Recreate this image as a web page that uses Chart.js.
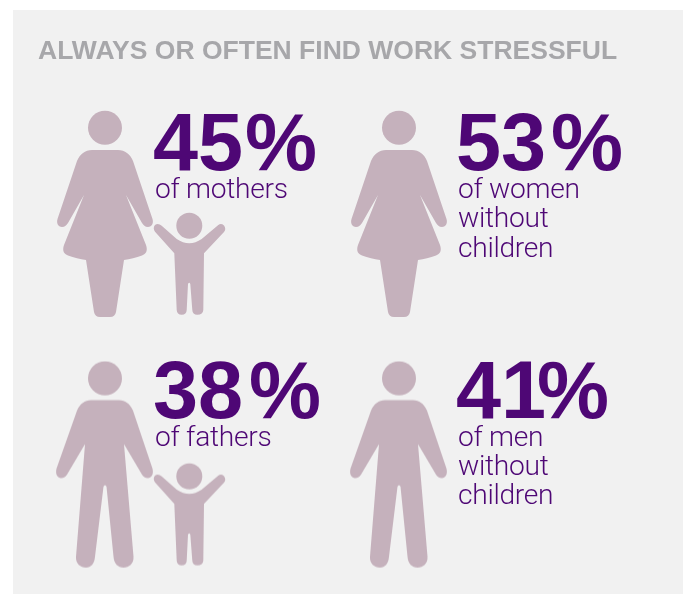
<!DOCTYPE html>
<html>
<head>
<meta charset="utf-8">
<style>
  html, body { margin: 0; padding: 0; background: #fff; }
  #wrap { position: relative; width: 683px; height: 594px; }
  canvas { display: block; }
</style>
</head>
<body>
<div id="wrap"><canvas id="myChart" width="683" height="594"></canvas></div>
<script src="https://cdn.jsdelivr.net/npm/chart.js@4"></script>
<script>
const title = 'ALWAYS OR OFTEN FIND WORK STRESSFUL';
const categories = ['mothers', 'women without children', 'fathers', 'men without children'];
const values = [45, 53, 38, 41];
const captions = [
  ['of mothers'],
  ['of women', 'without', 'children'],
  ['of fathers'],
  ['of men', 'without', 'children'],
];
const figures = ['woman', 'woman', 'man', 'man'];
const columns = [0, 1, 0, 1];
const rows = [0, 0, 1, 1];
const withChild = [true, false, true, false];

const PURPLE = '#4e0775';
const FIGURE = '#c5b1bc';

// icon canvases used as point styles; paths are in icon-local pixels
function icon(w, h, draw) {
  const c = document.createElement('canvas');
  c.width = w;
  c.height = h;
  const g = c.getContext('2d');
  g.fillStyle = FIGURE;
  draw(g);
  return c;
}

function head(g, x, y, r) {
  g.beginPath();
  g.arc(x, y, r, 0, Math.PI * 2);
  g.fill();
}

const womanIcon = icon(110, 212, (g) => {
  head(g, 55, 17.7, 17);
  g.beginPath();
  g.moveTo(42, 40);
  g.lineTo(68, 40);
  g.bezierCurveTo(75, 40, 80, 44, 83, 51);
  g.lineTo(102.5, 109);
  g.bezierCurveTo(104, 114, 101, 117, 98, 117);
  g.bezierCurveTo(95, 117, 93.5, 115, 92, 113);
  g.lineTo(76, 85);
  g.lineTo(96, 135);
  g.bezierCurveTo(98, 141, 96, 144, 92, 145.5);
  g.bezierCurveTo(86, 148, 80, 149, 74, 150);
  g.lineTo(66, 202);
  g.quadraticCurveTo(65, 207, 60, 207);
  g.lineTo(50, 207);
  g.quadraticCurveTo(45, 207, 44, 202);
  g.lineTo(36, 150);
  g.bezierCurveTo(30, 149, 24, 148, 18, 145.5);
  g.bezierCurveTo(14, 144, 12, 141, 14, 135);
  g.lineTo(34, 85);
  g.lineTo(18, 113);
  g.bezierCurveTo(16.5, 115, 15, 117, 12, 117);
  g.bezierCurveTo(9, 117, 6, 114, 7.5, 109);
  g.lineTo(27, 51);
  g.bezierCurveTo(30, 44, 35, 40, 42, 40);
  g.closePath();
  g.fill();
});

const manIcon = icon(110, 212, (g) => {
  head(g, 55, 17.7, 17);
  g.beginPath();
  g.moveTo(41, 39.5);
  g.lineTo(69, 39.5);
  g.bezierCurveTo(75, 39.5, 80, 43, 83, 50);
  g.lineTo(102.5, 108);
  g.bezierCurveTo(104, 114, 101, 117.5, 98, 117.5);
  g.bezierCurveTo(95, 117.5, 93.5, 116, 92, 114);
  g.lineTo(74, 83.5);
  g.lineTo(83.5, 196);
  g.bezierCurveTo(84, 203, 79, 207, 73.5, 207);
  g.bezierCurveTo(68, 207, 64, 203, 63.5, 196);
  g.lineTo(56.5, 126);
  g.quadraticCurveTo(55, 123, 53.5, 126);
  g.lineTo(45, 196);
  g.bezierCurveTo(44.5, 203, 41, 207, 36, 207);
  g.bezierCurveTo(30.5, 207, 25.5, 203, 26, 196);
  g.lineTo(35, 83.5);
  g.lineTo(17, 114);
  g.bezierCurveTo(15.5, 116, 14, 117.5, 11, 117.5);
  g.bezierCurveTo(8, 117.5, 5, 114, 6.5, 108);
  g.lineTo(27, 50);
  g.bezierCurveTo(30, 43, 35, 39.5, 41, 39.5);
  g.closePath();
  g.fill();
});

const childIcon = icon(80, 108, (g) => {
  head(g, 39.3, 15.7, 13);
  g.beginPath();
  g.moveTo(11.7, 15.7);
  g.lineTo(26.7, 29);
  g.quadraticCurveTo(39.3, 37.5, 51.7, 29);
  g.lineTo(68.3, 15);
  g.quadraticCurveTo(71, 13, 74, 15.5);
  g.quadraticCurveTo(76.5, 19, 74, 22);
  g.lineTo(54, 43.3);
  g.lineTo(53.3, 100);
  g.quadraticCurveTo(53, 104.7, 47.3, 104.7);
  g.quadraticCurveTo(42.5, 104.7, 42.3, 100);
  g.lineTo(40.3, 74);
  g.quadraticCurveTo(39.2, 71.5, 38, 74);
  g.lineTo(36.7, 100);
  g.quadraticCurveTo(36.5, 104.7, 31.7, 104.7);
  g.quadraticCurveTo(27, 104.7, 26.7, 100);
  g.lineTo(24.3, 43.3);
  g.lineTo(5, 21.7);
  g.quadraticCurveTo(2.5, 18, 5, 15);
  g.quadraticCurveTo(8, 12.5, 11.7, 15.7);
  g.closePath();
  g.fill();
});

const icons = { woman: womanIcon, man: manIcon };

const adultPoints = categories.map((c, i) => ({ x: columns[i], y: rows[i] }));
const childPoints = categories
  .map((c, i) => ({ x: columns[i] + 0.289, y: rows[i] + 0.1915, show: withChild[i] }))
  .filter((p) => p.show);

// kerning of the % sign per label, and the lift of the lower row of text
const percentShift = [2, 5, 6, -9];
const rowLift = [0, 3];
const columnTextGap = [50, 59];

// panel, heading, percentages and captions
const infographicText = {
  id: 'infographicText',
  beforeDraw(chart) {
    const { ctx } = chart;
    ctx.save();
    ctx.fillStyle = '#f1f1f1';
    ctx.fillRect(13, 10, 670, 584);
    ctx.restore();
  },
  afterDatasetsDraw(chart) {
    const { ctx } = chart;
    const adults = chart.getDatasetMeta(0).data;
    ctx.save();
    ctx.textBaseline = 'alphabetic';
    ctx.textAlign = 'left';
    ctx.fillStyle = '#a7a7aa';
    ctx.font = 'bold 26.5px "Liberation Sans"';
    ctx.fillText(title, 38, 59);

    adults.forEach((pt, i) => {
      const left = pt.x + columnTextGap[columns[i]];
      const base = pt.y - 46 - rowLift[rows[i]];
      const digits = String(values[i]);
      ctx.fillStyle = PURPLE;
      ctx.font = 'bold 81px "Liberation Sans"';
      ctx.fillText(digits, left - 2, base);
      ctx.fillText('%', left - 2 + ctx.measureText(digits).width + percentShift[i], base);
      ctx.font = '300 28.2px Roboto';
      ctx.letterSpacing = '-0.3px';
      captions[i].forEach((line, n) => {
        ctx.fillText(line, left, base + 28 + n * 29.3);
      });
      ctx.letterSpacing = '0px';
    });
    ctx.restore();
  },
};

const ctx = document.getElementById('myChart').getContext('2d');
new Chart(ctx, {
  type: 'scatter',
  data: {
    datasets: [
      {
        label: 'Adults',
        data: adultPoints,
        pointStyle: (c) => icons[figures[c.dataIndex]],
        pointRadius: 10,
      },
      {
        label: 'Children',
        data: childPoints,
        pointStyle: childIcon,
        pointRadius: 10,
      },
    ],
  },
  options: {
    responsive: false,
    animation: false,
    layout: { padding: 0, autoPadding: false },
    plugins: { legend: { display: false }, tooltip: { enabled: false } },
    scales: {
      x: { display: false, min: -105 / 294, max: 578 / 294 },
      y: { display: false, reverse: true, min: -216 / 250.6, max: 378 / 250.6 },
    },
  },
  plugins: [infographicText],
});
</script>
</body>
</html>
